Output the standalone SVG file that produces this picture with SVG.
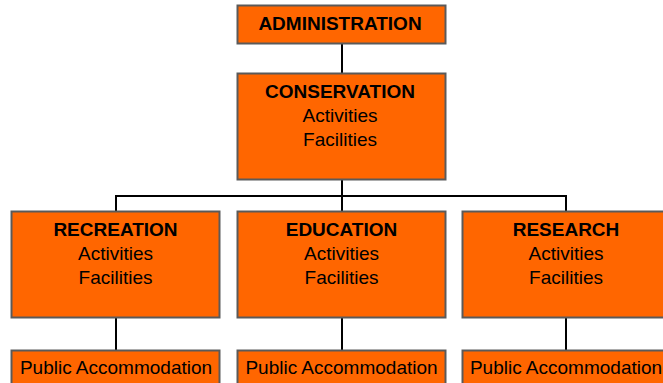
<svg xmlns="http://www.w3.org/2000/svg" width="663" height="383" viewBox="0 0 663 383">
<style>
.box{fill:#FF6600;stroke:#5a5a5a;stroke-width:2}
.t{font-family:"Liberation Sans",Arial,sans-serif;font-size:19px;fill:#000;text-anchor:middle}
.b{font-weight:bold}
.c{stroke:#000;stroke-width:2;fill:none}
</style>
<rect width="663" height="383" fill="#fff"/>
<g id="connectors">
<line class="c" x1="342" y1="43.5" x2="342" y2="73.5"/>
<line class="c" x1="342" y1="179.5" x2="342" y2="196"/>
<polyline class="c" points="116,211.5 116,196 566,196 566,211.5"/>
<line class="c" x1="342" y1="196" x2="342" y2="211.5"/>
<line class="c" x1="116" y1="317.5" x2="116" y2="350"/>
<line class="c" x1="342" y1="317.5" x2="342" y2="350"/>
<line class="c" x1="566" y1="317.5" x2="566" y2="350"/>
</g>
<g id="administration">
<rect class="box" x="237.5" y="5.5" width="208" height="38"/>
<text class="t b" x="340" y="30">ADMINISTRATION</text>
</g>
<g id="conservation">
<rect class="box" x="237.5" y="73.5" width="208" height="106"/>
<text class="t b" x="340" y="98">CONSERVATION</text>
<text class="t" x="340" y="122">Activities</text>
<text class="t" x="340" y="146">Facilities</text>
</g>
<g id="recreation">
<rect class="box" x="11.5" y="211.5" width="208" height="106"/>
<text class="t b" x="115.5" y="236">RECREATION</text>
<text class="t" x="115.5" y="260">Activities</text>
<text class="t" x="115.5" y="284">Facilities</text>
</g>
<g id="education">
<rect class="box" x="237.5" y="211.5" width="208" height="106"/>
<text class="t b" x="341.5" y="236">EDUCATION</text>
<text class="t" x="341.5" y="260">Activities</text>
<text class="t" x="341.5" y="284">Facilities</text>
</g>
<g id="research">
<rect class="box" x="462.5" y="211.5" width="208" height="106"/>
<text class="t b" x="566" y="236">RESEARCH</text>
<text class="t" x="566" y="260">Activities</text>
<text class="t" x="566" y="284">Facilities</text>
</g>
<g id="pa-recreation">
<rect class="box" x="11.5" y="350.5" width="208" height="40"/>
<text class="t" x="116" y="374">Public Accommodation</text>
</g>
<g id="pa-education">
<rect class="box" x="237.5" y="350.5" width="208" height="40"/>
<text class="t" x="341.5" y="374">Public Accommodation</text>
</g>
<g id="pa-research">
<rect class="box" x="462.5" y="350.5" width="208" height="40"/>
<text class="t" x="566" y="374">Public Accommodation</text>
</g>
</svg>
